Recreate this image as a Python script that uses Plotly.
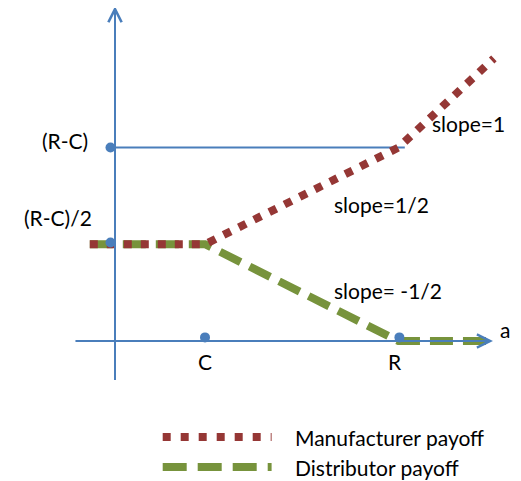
import plotly.graph_objects as go

# Key values (data units; C and R positions on the a-axis)
C = 1.0
R = 3.15
RC = R - C            # (R-C)
RC_half = RC / 2      # (R-C)/2

# Manufacturer payoff (piecewise)
mfr_x = [-0.28, C, R, 4.21]
mfr_y = [RC_half, RC_half, RC, 3.14]

# Distributor payoff (piecewise)
dist_x = [-0.28, C, R, 4.14]
dist_y = [RC_half, RC_half, 0.0, 0.0]

# Reference horizontal line at (R-C)
ref_x = [0.0, 3.22]
ref_y = [RC, RC]

# Marked points
pt_x = [-0.05, -0.05, C, R + 0.01]
pt_y = [RC, RC_half + 0.02, 0.04, 0.04]

# Axes extents
xaxis_x = [-0.456, 4.2]
yaxis_y = [-0.45, 3.72]

# Legend
legend_x = [0.53, 1.74]
legend_y = [-1.067, -1.4]
legend_names = ["Manufacturer payoff", "Distributor payoff"]

# Labels: (text, x, y, xanchor)
labels = [
    ("(R-C)", -0.833, 2.233, "left"),
    ("(R-C)/2", -1.033, 1.367, "left"),
    ("slope=1", 3.5, 2.42, "left"),
    ("slope=1/2", 2.41, 1.52, "left"),
    ("slope= -1/2", 2.41, 0.56, "left"),
    ("C", C, -0.233, "center"),
    ("R", 3.11, -0.233, "center"),
    ("a", 4.33, 0.13, "center"),
]

BLUE = "#4A7EBB"
RED = "#953735"
GREEN = "#77933C"
FONT = "Lato, 'Open Sans', sans-serif"
FS = 21

fig = go.Figure()

fig.add_trace(go.Scatter(x=ref_x, y=ref_y, mode="lines",
                         line=dict(color=BLUE, width=2), hoverinfo="skip"))
fig.add_trace(go.Scatter(x=dist_x, y=dist_y, mode="lines",
                         line=dict(color=GREEN, width=8, dash="23px,10px"),
                         hoverinfo="skip"))
fig.add_trace(go.Scatter(x=mfr_x, y=mfr_y, mode="lines",
                         line=dict(color=RED, width=8, dash="8px,9px"),
                         hoverinfo="skip"))
fig.add_trace(go.Scatter(x=pt_x, y=pt_y, mode="markers",
                         marker=dict(color=BLUE, size=10), hoverinfo="skip"))
fig.add_trace(go.Scatter(x=legend_x, y=[legend_y[0]] * 2, mode="lines",
                         line=dict(color=RED, width=8, dash="8px,10px"),
                         hoverinfo="skip"))
fig.add_trace(go.Scatter(x=legend_x, y=[legend_y[1]] * 2, mode="lines",
                         line=dict(color=GREEN, width=8, dash="24px,11px"),
                         hoverinfo="skip"))

annotations = []
annotations.append(dict(x=xaxis_x[1], y=0, ax=xaxis_x[0], ay=0,
                        xref="x", yref="y", axref="x", ayref="y",
                        text="", showarrow=True, arrowhead=5, arrowsize=1.3,
                        arrowwidth=2, arrowcolor=BLUE))
annotations.append(dict(x=0, y=yaxis_y[1], ax=0, ay=yaxis_y[0],
                        xref="x", yref="y", axref="x", ayref="y",
                        text="", showarrow=True, arrowhead=5, arrowsize=1.3,
                        arrowwidth=2, arrowcolor=BLUE))

for text, x, y, anchor in labels:
    annotations.append(dict(x=x, y=y, text=text, showarrow=False,
                            xanchor=anchor, yanchor="middle",
                            font=dict(family=FONT, size=FS, color="black")))

for name, y in zip(legend_names, legend_y):
    annotations.append(dict(x=1.978, y=y, text=name, showarrow=False,
                            xanchor="left", yanchor="middle",
                            font=dict(family=FONT, size=FS, color="black")))

# page body adds an 8px margin; figure is sized/ranged to compensate
OFF = 8
fig.update_layout(
    width=521 - OFF, height=481 - OFF,
    margin=dict(l=0, r=0, t=0, b=0),
    paper_bgcolor="white", plot_bgcolor="white",
    showlegend=False,
    xaxis=dict(range=[(OFF - 115) / 90, 406 / 90], visible=False, fixedrange=True),
    yaxis=dict(range=[-140 / 90, (341 - OFF) / 90], visible=False, fixedrange=True),
    annotations=annotations,
)

fig.write_html("out.html", config={"displayModeBar": False})
